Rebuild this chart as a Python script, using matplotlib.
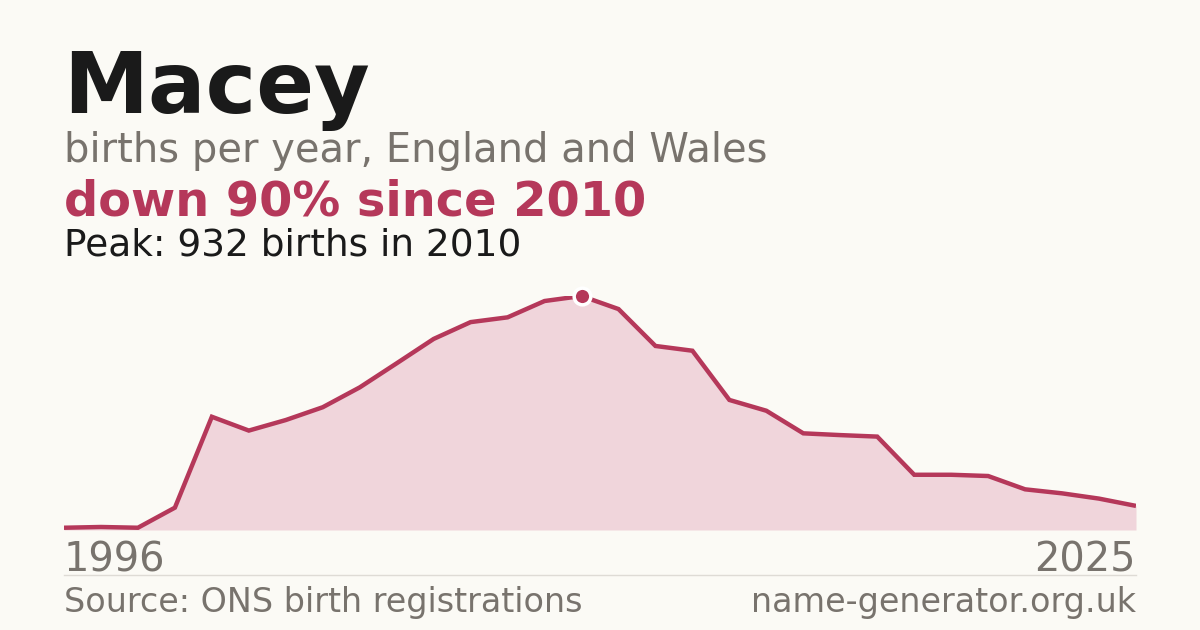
import matplotlib
matplotlib.use("Agg")
import matplotlib.pyplot as plt

years = list(range(1996, 2026))
births = [9, 12, 9, 89, 451, 396, 438, 489, 568, 664, 761, 828, 847, 912, 932,
          880, 733, 714, 518, 475, 385, 378, 372, 220, 220, 215, 162, 146, 125, 96]

name = "Macey"
subtitle = "births per year, England and Wales"
change_text = "down 90% since 2010"
peak_text = "Peak: 932 births in 2010"
source_text = "Source: ONS birth registrations"
site_text = "name-generator.org.uk"

bg = "#fbfaf5"
accent = "#b5385a"
fill_col = "#f0d5db"
grey = "#78736d"
dark = "#1a1a1a"

W, H = 1200, 630
fig = plt.figure(figsize=(W / 100, H / 100), dpi=100, facecolor=bg)
plt.rcParams["font.family"] = ["DejaVu Sans"]

def px(x, y):
    return x / W, 1 - y / H

# chart area: x 64..1136, baseline y=530, peak y=296
ax = fig.add_axes([64 / W, (H - 530) / H, 1072 / W, 234 / H])
ax.set_facecolor(bg)
ax.fill_between(years, births, 0, color=fill_col, lw=0)
ax.plot(years, births, color=accent, lw=3.2, solid_joinstyle="miter", solid_capstyle="butt")
peak_i = births.index(max(births))
ax.plot(years[peak_i], births[peak_i], "o", ms=12, mfc=accent, mec="white", mew=2.5,
        zorder=5, clip_on=False)
ax.set_xlim(years[0], years[-1])
ax.set_ylim(0, max(births))
ax.axis("off")

fig.text(*px(63, 113), name, fontsize=61.5, fontweight="bold", color=dark, va="baseline")
fig.text(*px(64, 162), subtitle, fontsize=28.8, color=grey, va="baseline")
fig.text(*px(64, 216), change_text, fontsize=34.5, fontweight="bold", color=accent, va="baseline")
fig.text(*px(64, 256), peak_text, fontsize=27, color=dark, va="baseline")

fig.text(*px(64, 572), str(years[0]), fontsize=28.7, color=grey, va="baseline")
fig.text(*px(1136, 572), str(years[-1]), fontsize=28.7, color=grey, va="baseline", ha="right")
fig.add_artist(plt.Line2D([64 / W, 1136 / W], [1 - 575 / H] * 2, color="#dedbd5", lw=1))
fig.text(*px(64, 612), source_text, fontsize=24, color=grey, va="baseline")
fig.text(*px(1136, 612), site_text, fontsize=24, color=grey, va="baseline", ha="right")

fig.savefig("out.png", dpi=100, facecolor=bg)
